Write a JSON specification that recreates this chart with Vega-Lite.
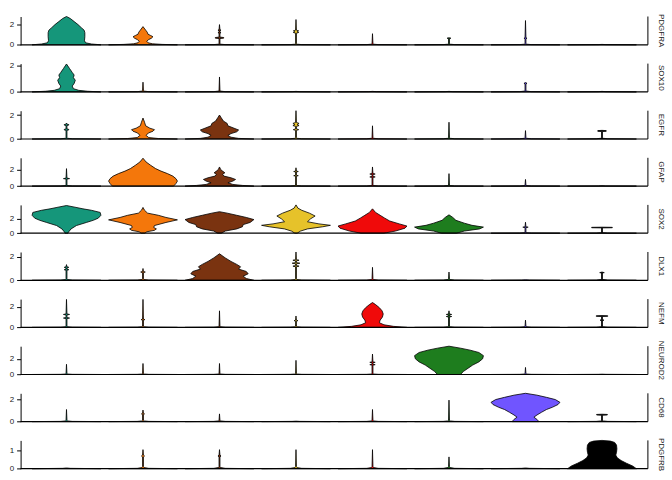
{
"$schema": "https://vega.github.io/schema/vega-lite/v6.json",
"padding": {"left": 8.6, "top": 13.5, "right": 5, "bottom": 5},
"datasets": {"vln": [
{"gene":"PDGFRA","cl":"1","expr":0,"dens":0.9},{"gene":"PDGFRA","cl":"1","expr":0.08,"dens":0.65},{"gene":"PDGFRA","cl":"1","expr":0.2,"dens":0.5},{"gene":"PDGFRA","cl":"1","expr":0.4,"dens":0.47},{"gene":"PDGFRA","cl":"1","expr":0.8,"dens":0.48},{"gene":"PDGFRA","cl":"1","expr":1.2,"dens":0.48},{"gene":"PDGFRA","cl":"1","expr":1.45,"dens":0.46},{"gene":"PDGFRA","cl":"1","expr":1.65,"dens":0.4},{"gene":"PDGFRA","cl":"1","expr":2.0,"dens":0.3},{"gene":"PDGFRA","cl":"1","expr":2.3,"dens":0.2},{"gene":"PDGFRA","cl":"1","expr":2.6,"dens":0.1},{"gene":"PDGFRA","cl":"1","expr":2.8,"dens":0},
{"gene":"PDGFRA","cl":"2","expr":0,"dens":0.9},{"gene":"PDGFRA","cl":"2","expr":0.04,"dens":0.5},{"gene":"PDGFRA","cl":"2","expr":0.1,"dens":0.25},{"gene":"PDGFRA","cl":"2","expr":0.2,"dens":0.13},{"gene":"PDGFRA","cl":"2","expr":0.35,"dens":0.1},{"gene":"PDGFRA","cl":"2","expr":0.5,"dens":0.14},{"gene":"PDGFRA","cl":"2","expr":0.65,"dens":0.22},{"gene":"PDGFRA","cl":"2","expr":0.8,"dens":0.26},{"gene":"PDGFRA","cl":"2","expr":0.92,"dens":0.2},{"gene":"PDGFRA","cl":"2","expr":1.05,"dens":0.13},{"gene":"PDGFRA","cl":"2","expr":1.25,"dens":0.11},{"gene":"PDGFRA","cl":"2","expr":1.45,"dens":0.07},{"gene":"PDGFRA","cl":"2","expr":1.8,"dens":0},
{"gene":"PDGFRA","cl":"3","expr":0,"dens":0.9},{"gene":"PDGFRA","cl":"3","expr":0.02,"dens":0.15},{"gene":"PDGFRA","cl":"3","expr":0.06,"dens":0.03},{"gene":"PDGFRA","cl":"3","expr":0.12,"dens":0.012},{"gene":"PDGFRA","cl":"3","expr":0.62,"dens":0.012},{"gene":"PDGFRA","cl":"3","expr":0.66,"dens":0.11},{"gene":"PDGFRA","cl":"3","expr":0.72,"dens":0.11},{"gene":"PDGFRA","cl":"3","expr":0.76,"dens":0.012},{"gene":"PDGFRA","cl":"3","expr":1.15,"dens":0.012},{"gene":"PDGFRA","cl":"3","expr":1.2,"dens":0.04},{"gene":"PDGFRA","cl":"3","expr":1.25,"dens":0.012},{"gene":"PDGFRA","cl":"3","expr":1.4,"dens":0.012},{"gene":"PDGFRA","cl":"3","expr":1.45,"dens":0.04},{"gene":"PDGFRA","cl":"3","expr":1.5,"dens":0.012},{"gene":"PDGFRA","cl":"3","expr":2.0,"dens":0},
{"gene":"PDGFRA","cl":"4","expr":0,"dens":0.9},{"gene":"PDGFRA","cl":"4","expr":0.02,"dens":0.15},{"gene":"PDGFRA","cl":"4","expr":0.06,"dens":0.03},{"gene":"PDGFRA","cl":"4","expr":0.12,"dens":0.012},{"gene":"PDGFRA","cl":"4","expr":1.15,"dens":0.012},{"gene":"PDGFRA","cl":"4","expr":1.22,"dens":0.07},{"gene":"PDGFRA","cl":"4","expr":1.28,"dens":0.03},{"gene":"PDGFRA","cl":"4","expr":1.38,"dens":0.07},{"gene":"PDGFRA","cl":"4","expr":1.45,"dens":0.012},{"gene":"PDGFRA","cl":"4","expr":2.5,"dens":0},
{"gene":"PDGFRA","cl":"5","expr":0,"dens":0.9},{"gene":"PDGFRA","cl":"5","expr":0.02,"dens":0.15},{"gene":"PDGFRA","cl":"5","expr":0.06,"dens":0.03},{"gene":"PDGFRA","cl":"5","expr":0.12,"dens":0.012},{"gene":"PDGFRA","cl":"5","expr":1.1,"dens":0},
{"gene":"PDGFRA","cl":"6","expr":0,"dens":0.9},{"gene":"PDGFRA","cl":"6","expr":0.02,"dens":0.15},{"gene":"PDGFRA","cl":"6","expr":0.06,"dens":0.03},{"gene":"PDGFRA","cl":"6","expr":0.12,"dens":0.012},{"gene":"PDGFRA","cl":"6","expr":0.62,"dens":0.012},{"gene":"PDGFRA","cl":"6","expr":0.65,"dens":0.05},{"gene":"PDGFRA","cl":"6","expr":0.7,"dens":0},
{"gene":"PDGFRA","cl":"7","expr":0,"dens":0.9},{"gene":"PDGFRA","cl":"7","expr":0.02,"dens":0.15},{"gene":"PDGFRA","cl":"7","expr":0.06,"dens":0.03},{"gene":"PDGFRA","cl":"7","expr":0.12,"dens":0.012},{"gene":"PDGFRA","cl":"7","expr":0.6,"dens":0.012},{"gene":"PDGFRA","cl":"7","expr":0.65,"dens":0.04},{"gene":"PDGFRA","cl":"7","expr":0.7,"dens":0.012},{"gene":"PDGFRA","cl":"7","expr":2.4,"dens":0},
{"gene":"PDGFRA","cl":"8","expr":0,"dens":0.9},{"gene":"PDGFRA","cl":"8","expr":0.02,"dens":0.1},{"gene":"PDGFRA","cl":"8","expr":0.04,"dens":0},

{"gene":"SOX10","cl":"1","expr":0,"dens":0.9},{"gene":"SOX10","cl":"1","expr":0.05,"dens":0.55},{"gene":"SOX10","cl":"1","expr":0.12,"dens":0.32},{"gene":"SOX10","cl":"1","expr":0.25,"dens":0.18},{"gene":"SOX10","cl":"1","expr":0.45,"dens":0.15},{"gene":"SOX10","cl":"1","expr":0.65,"dens":0.2},{"gene":"SOX10","cl":"1","expr":0.9,"dens":0.23},{"gene":"SOX10","cl":"1","expr":1.1,"dens":0.18},{"gene":"SOX10","cl":"1","expr":1.3,"dens":0.2},{"gene":"SOX10","cl":"1","expr":1.5,"dens":0.15},{"gene":"SOX10","cl":"1","expr":1.8,"dens":0.08},{"gene":"SOX10","cl":"1","expr":2.15,"dens":0},
{"gene":"SOX10","cl":"2","expr":0,"dens":0.9},{"gene":"SOX10","cl":"2","expr":0.02,"dens":0.15},{"gene":"SOX10","cl":"2","expr":0.06,"dens":0.03},{"gene":"SOX10","cl":"2","expr":0.12,"dens":0.012},{"gene":"SOX10","cl":"2","expr":0.75,"dens":0},
{"gene":"SOX10","cl":"3","expr":0,"dens":0.9},{"gene":"SOX10","cl":"3","expr":0.02,"dens":0.15},{"gene":"SOX10","cl":"3","expr":0.06,"dens":0.03},{"gene":"SOX10","cl":"3","expr":0.12,"dens":0.012},{"gene":"SOX10","cl":"3","expr":1.15,"dens":0},
{"gene":"SOX10","cl":"4","expr":0,"dens":0.9},{"gene":"SOX10","cl":"4","expr":0.02,"dens":0.1},{"gene":"SOX10","cl":"4","expr":0.04,"dens":0},
{"gene":"SOX10","cl":"5","expr":0,"dens":0.9},{"gene":"SOX10","cl":"5","expr":0.02,"dens":0.1},{"gene":"SOX10","cl":"5","expr":0.04,"dens":0},
{"gene":"SOX10","cl":"6","expr":0,"dens":0.9},{"gene":"SOX10","cl":"6","expr":0.02,"dens":0.1},{"gene":"SOX10","cl":"6","expr":0.04,"dens":0},
{"gene":"SOX10","cl":"7","expr":0,"dens":0.9},{"gene":"SOX10","cl":"7","expr":0.02,"dens":0.15},{"gene":"SOX10","cl":"7","expr":0.06,"dens":0.03},{"gene":"SOX10","cl":"7","expr":0.12,"dens":0.012},{"gene":"SOX10","cl":"7","expr":0.62,"dens":0.012},{"gene":"SOX10","cl":"7","expr":0.66,"dens":0.04},{"gene":"SOX10","cl":"7","expr":0.72,"dens":0},
{"gene":"SOX10","cl":"8","expr":0,"dens":0.9},{"gene":"SOX10","cl":"8","expr":0.02,"dens":0.1},{"gene":"SOX10","cl":"8","expr":0.04,"dens":0},

{"gene":"EGFR","cl":"1","expr":0,"dens":0.9},{"gene":"EGFR","cl":"1","expr":0.02,"dens":0.15},{"gene":"EGFR","cl":"1","expr":0.06,"dens":0.03},{"gene":"EGFR","cl":"1","expr":0.12,"dens":0.012},{"gene":"EGFR","cl":"1","expr":0.72,"dens":0.012},{"gene":"EGFR","cl":"1","expr":0.76,"dens":0.06},{"gene":"EGFR","cl":"1","expr":0.8,"dens":0.06},{"gene":"EGFR","cl":"1","expr":0.84,"dens":0.012},{"gene":"EGFR","cl":"1","expr":1.12,"dens":0.012},{"gene":"EGFR","cl":"1","expr":1.16,"dens":0.06},{"gene":"EGFR","cl":"1","expr":1.2,"dens":0.06},{"gene":"EGFR","cl":"1","expr":1.24,"dens":0.012},{"gene":"EGFR","cl":"1","expr":1.33,"dens":0},
{"gene":"EGFR","cl":"2","expr":0,"dens":0.9},{"gene":"EGFR","cl":"2","expr":0.04,"dens":0.4},{"gene":"EGFR","cl":"2","expr":0.12,"dens":0.15},{"gene":"EGFR","cl":"2","expr":0.3,"dens":0.08},{"gene":"EGFR","cl":"2","expr":0.5,"dens":0.14},{"gene":"EGFR","cl":"2","expr":0.65,"dens":0.26},{"gene":"EGFR","cl":"2","expr":0.78,"dens":0.3},{"gene":"EGFR","cl":"2","expr":0.9,"dens":0.18},{"gene":"EGFR","cl":"2","expr":1.1,"dens":0.07},{"gene":"EGFR","cl":"2","expr":1.4,"dens":0.04},{"gene":"EGFR","cl":"2","expr":1.75,"dens":0},
{"gene":"EGFR","cl":"3","expr":0,"dens":0.9},{"gene":"EGFR","cl":"3","expr":0.05,"dens":0.5},{"gene":"EGFR","cl":"3","expr":0.15,"dens":0.3},{"gene":"EGFR","cl":"3","expr":0.3,"dens":0.22},{"gene":"EGFR","cl":"3","expr":0.45,"dens":0.3},{"gene":"EGFR","cl":"3","expr":0.6,"dens":0.45},{"gene":"EGFR","cl":"3","expr":0.75,"dens":0.5},{"gene":"EGFR","cl":"3","expr":0.9,"dens":0.38},{"gene":"EGFR","cl":"3","expr":1.1,"dens":0.22},{"gene":"EGFR","cl":"3","expr":1.3,"dens":0.2},{"gene":"EGFR","cl":"3","expr":1.5,"dens":0.1},{"gene":"EGFR","cl":"3","expr":1.8,"dens":0.04},{"gene":"EGFR","cl":"3","expr":2.0,"dens":0},
{"gene":"EGFR","cl":"4","expr":0,"dens":0.9},{"gene":"EGFR","cl":"4","expr":0.02,"dens":0.15},{"gene":"EGFR","cl":"4","expr":0.06,"dens":0.03},{"gene":"EGFR","cl":"4","expr":0.12,"dens":0.012},{"gene":"EGFR","cl":"4","expr":0.72,"dens":0.012},{"gene":"EGFR","cl":"4","expr":0.78,"dens":0.07},{"gene":"EGFR","cl":"4","expr":0.84,"dens":0.012},{"gene":"EGFR","cl":"4","expr":1.05,"dens":0.012},{"gene":"EGFR","cl":"4","expr":1.12,"dens":0.08},{"gene":"EGFR","cl":"4","expr":1.2,"dens":0.03},{"gene":"EGFR","cl":"4","expr":1.3,"dens":0.08},{"gene":"EGFR","cl":"4","expr":1.38,"dens":0.012},{"gene":"EGFR","cl":"4","expr":2.36,"dens":0},
{"gene":"EGFR","cl":"5","expr":0,"dens":0.9},{"gene":"EGFR","cl":"5","expr":0.02,"dens":0.15},{"gene":"EGFR","cl":"5","expr":0.06,"dens":0.03},{"gene":"EGFR","cl":"5","expr":0.12,"dens":0.012},{"gene":"EGFR","cl":"5","expr":1.1,"dens":0},
{"gene":"EGFR","cl":"6","expr":0,"dens":0.9},{"gene":"EGFR","cl":"6","expr":0.02,"dens":0.15},{"gene":"EGFR","cl":"6","expr":0.06,"dens":0.03},{"gene":"EGFR","cl":"6","expr":0.12,"dens":0.012},{"gene":"EGFR","cl":"6","expr":1.4,"dens":0},
{"gene":"EGFR","cl":"7","expr":0,"dens":0.9},{"gene":"EGFR","cl":"7","expr":0.02,"dens":0.15},{"gene":"EGFR","cl":"7","expr":0.06,"dens":0.03},{"gene":"EGFR","cl":"7","expr":0.12,"dens":0.012},{"gene":"EGFR","cl":"7","expr":0.7,"dens":0},
{"gene":"EGFR","cl":"8","expr":0,"dens":0.9},{"gene":"EGFR","cl":"8","expr":0.02,"dens":0.15},{"gene":"EGFR","cl":"8","expr":0.06,"dens":0.03},{"gene":"EGFR","cl":"8","expr":0.12,"dens":0.012},{"gene":"EGFR","cl":"8","expr":0.62,"dens":0.012},{"gene":"EGFR","cl":"8","expr":0.64,"dens":0.11},{"gene":"EGFR","cl":"8","expr":0.7,"dens":0.11},{"gene":"EGFR","cl":"8","expr":0.72,"dens":0},

{"gene":"GFAP","cl":"1","expr":0,"dens":0.9},{"gene":"GFAP","cl":"1","expr":0.02,"dens":0.15},{"gene":"GFAP","cl":"1","expr":0.06,"dens":0.03},{"gene":"GFAP","cl":"1","expr":0.12,"dens":0.012},{"gene":"GFAP","cl":"1","expr":0.85,"dens":0.012},{"gene":"GFAP","cl":"1","expr":0.9,"dens":0.08},{"gene":"GFAP","cl":"1","expr":0.96,"dens":0.012},{"gene":"GFAP","cl":"1","expr":2.1,"dens":0},
{"gene":"GFAP","cl":"2","expr":0,"dens":0.8},{"gene":"GFAP","cl":"2","expr":0.3,"dens":0.86},{"gene":"GFAP","cl":"2","expr":0.6,"dens":0.9},{"gene":"GFAP","cl":"2","expr":0.9,"dens":0.86},{"gene":"GFAP","cl":"2","expr":1.2,"dens":0.78},{"gene":"GFAP","cl":"2","expr":1.5,"dens":0.64},{"gene":"GFAP","cl":"2","expr":1.8,"dens":0.47},{"gene":"GFAP","cl":"2","expr":2.1,"dens":0.33},{"gene":"GFAP","cl":"2","expr":2.5,"dens":0.2},{"gene":"GFAP","cl":"2","expr":2.9,"dens":0.08},{"gene":"GFAP","cl":"2","expr":3.35,"dens":0},
{"gene":"GFAP","cl":"3","expr":0,"dens":0.9},{"gene":"GFAP","cl":"3","expr":0.08,"dens":0.6},{"gene":"GFAP","cl":"3","expr":0.2,"dens":0.35},{"gene":"GFAP","cl":"3","expr":0.4,"dens":0.22},{"gene":"GFAP","cl":"3","expr":0.6,"dens":0.35},{"gene":"GFAP","cl":"3","expr":0.8,"dens":0.42},{"gene":"GFAP","cl":"3","expr":1.0,"dens":0.3},{"gene":"GFAP","cl":"3","expr":1.2,"dens":0.12},{"gene":"GFAP","cl":"3","expr":1.4,"dens":0.08},{"gene":"GFAP","cl":"3","expr":1.6,"dens":0.14},{"gene":"GFAP","cl":"3","expr":1.8,"dens":0.08},{"gene":"GFAP","cl":"3","expr":2.0,"dens":0.03},{"gene":"GFAP","cl":"3","expr":2.3,"dens":0},
{"gene":"GFAP","cl":"4","expr":0,"dens":0.9},{"gene":"GFAP","cl":"4","expr":0.02,"dens":0.15},{"gene":"GFAP","cl":"4","expr":0.06,"dens":0.03},{"gene":"GFAP","cl":"4","expr":0.12,"dens":0.012},{"gene":"GFAP","cl":"4","expr":1.2,"dens":0.012},{"gene":"GFAP","cl":"4","expr":1.25,"dens":0.06},{"gene":"GFAP","cl":"4","expr":1.3,"dens":0.012},{"gene":"GFAP","cl":"4","expr":1.7,"dens":0.012},{"gene":"GFAP","cl":"4","expr":1.75,"dens":0.06},{"gene":"GFAP","cl":"4","expr":1.8,"dens":0.012},{"gene":"GFAP","cl":"4","expr":2.2,"dens":0},
{"gene":"GFAP","cl":"5","expr":0,"dens":0.9},{"gene":"GFAP","cl":"5","expr":0.02,"dens":0.15},{"gene":"GFAP","cl":"5","expr":0.06,"dens":0.03},{"gene":"GFAP","cl":"5","expr":0.12,"dens":0.012},{"gene":"GFAP","cl":"5","expr":1.05,"dens":0.012},{"gene":"GFAP","cl":"5","expr":1.1,"dens":0.07},{"gene":"GFAP","cl":"5","expr":1.15,"dens":0.012},{"gene":"GFAP","cl":"5","expr":1.4,"dens":0.012},{"gene":"GFAP","cl":"5","expr":1.45,"dens":0.07},{"gene":"GFAP","cl":"5","expr":1.5,"dens":0.012},{"gene":"GFAP","cl":"5","expr":2.3,"dens":0},
{"gene":"GFAP","cl":"6","expr":0,"dens":0.9},{"gene":"GFAP","cl":"6","expr":0.02,"dens":0.15},{"gene":"GFAP","cl":"6","expr":0.06,"dens":0.03},{"gene":"GFAP","cl":"6","expr":0.12,"dens":0.012},{"gene":"GFAP","cl":"6","expr":1.5,"dens":0},
{"gene":"GFAP","cl":"7","expr":0,"dens":0.9},{"gene":"GFAP","cl":"7","expr":0.02,"dens":0.15},{"gene":"GFAP","cl":"7","expr":0.06,"dens":0.03},{"gene":"GFAP","cl":"7","expr":0.12,"dens":0.012},{"gene":"GFAP","cl":"7","expr":0.8,"dens":0},
{"gene":"GFAP","cl":"8","expr":0,"dens":0.9},{"gene":"GFAP","cl":"8","expr":0.02,"dens":0.1},{"gene":"GFAP","cl":"8","expr":0.04,"dens":0},

{"gene":"SOX2","cl":"1","expr":0,"dens":0.04},{"gene":"SOX2","cl":"1","expr":0.15,"dens":0.05},{"gene":"SOX2","cl":"1","expr":0.6,"dens":0.12},{"gene":"SOX2","cl":"1","expr":1.07,"dens":0.26},{"gene":"SOX2","cl":"1","expr":1.5,"dens":0.52},{"gene":"SOX2","cl":"1","expr":1.8,"dens":0.7},{"gene":"SOX2","cl":"1","expr":2.1,"dens":0.83},{"gene":"SOX2","cl":"1","expr":2.5,"dens":0.9},{"gene":"SOX2","cl":"1","expr":2.9,"dens":0.88},{"gene":"SOX2","cl":"1","expr":3.2,"dens":0.65},{"gene":"SOX2","cl":"1","expr":3.4,"dens":0.43},{"gene":"SOX2","cl":"1","expr":3.6,"dens":0.25},{"gene":"SOX2","cl":"1","expr":3.86,"dens":0},
{"gene":"SOX2","cl":"2","expr":0,"dens":0.05},{"gene":"SOX2","cl":"2","expr":0.2,"dens":0.1},{"gene":"SOX2","cl":"2","expr":0.4,"dens":0.3},{"gene":"SOX2","cl":"2","expr":0.6,"dens":0.35},{"gene":"SOX2","cl":"2","expr":0.8,"dens":0.28},{"gene":"SOX2","cl":"2","expr":1.07,"dens":0.3},{"gene":"SOX2","cl":"2","expr":1.5,"dens":0.6},{"gene":"SOX2","cl":"2","expr":1.86,"dens":0.9},{"gene":"SOX2","cl":"2","expr":2.2,"dens":0.6},{"gene":"SOX2","cl":"2","expr":2.5,"dens":0.4},{"gene":"SOX2","cl":"2","expr":2.8,"dens":0.12},{"gene":"SOX2","cl":"2","expr":3.2,"dens":0.04},{"gene":"SOX2","cl":"2","expr":3.6,"dens":0},
{"gene":"SOX2","cl":"3","expr":0,"dens":0.05},{"gene":"SOX2","cl":"3","expr":0.3,"dens":0.15},{"gene":"SOX2","cl":"3","expr":0.6,"dens":0.45},{"gene":"SOX2","cl":"3","expr":0.9,"dens":0.6},{"gene":"SOX2","cl":"3","expr":1.2,"dens":0.62},{"gene":"SOX2","cl":"3","expr":1.5,"dens":0.8},{"gene":"SOX2","cl":"3","expr":1.9,"dens":0.9},{"gene":"SOX2","cl":"3","expr":2.2,"dens":0.7},{"gene":"SOX2","cl":"3","expr":2.5,"dens":0.45},{"gene":"SOX2","cl":"3","expr":2.8,"dens":0.2},{"gene":"SOX2","cl":"3","expr":3.0,"dens":0},
{"gene":"SOX2","cl":"4","expr":0,"dens":0.03},{"gene":"SOX2","cl":"4","expr":0.3,"dens":0.12},{"gene":"SOX2","cl":"4","expr":0.6,"dens":0.3},{"gene":"SOX2","cl":"4","expr":0.9,"dens":0.7},{"gene":"SOX2","cl":"4","expr":1.1,"dens":0.9},{"gene":"SOX2","cl":"4","expr":1.3,"dens":0.6},{"gene":"SOX2","cl":"4","expr":1.6,"dens":0.3},{"gene":"SOX2","cl":"4","expr":2.0,"dens":0.38},{"gene":"SOX2","cl":"4","expr":2.4,"dens":0.5},{"gene":"SOX2","cl":"4","expr":2.8,"dens":0.35},{"gene":"SOX2","cl":"4","expr":3.2,"dens":0.15},{"gene":"SOX2","cl":"4","expr":3.5,"dens":0.05},{"gene":"SOX2","cl":"4","expr":3.95,"dens":0},
{"gene":"SOX2","cl":"5","expr":0,"dens":0.3},{"gene":"SOX2","cl":"5","expr":0.3,"dens":0.6},{"gene":"SOX2","cl":"5","expr":0.7,"dens":0.85},{"gene":"SOX2","cl":"5","expr":1.0,"dens":0.9},{"gene":"SOX2","cl":"5","expr":1.3,"dens":0.7},{"gene":"SOX2","cl":"5","expr":1.7,"dens":0.45},{"gene":"SOX2","cl":"5","expr":2.1,"dens":0.32},{"gene":"SOX2","cl":"5","expr":2.5,"dens":0.2},{"gene":"SOX2","cl":"5","expr":2.9,"dens":0.08},{"gene":"SOX2","cl":"5","expr":3.4,"dens":0},
{"gene":"SOX2","cl":"6","expr":0,"dens":0.2},{"gene":"SOX2","cl":"6","expr":0.3,"dens":0.4},{"gene":"SOX2","cl":"6","expr":0.6,"dens":0.8},{"gene":"SOX2","cl":"6","expr":0.85,"dens":0.9},{"gene":"SOX2","cl":"6","expr":1.1,"dens":0.6},{"gene":"SOX2","cl":"6","expr":1.4,"dens":0.4},{"gene":"SOX2","cl":"6","expr":1.8,"dens":0.18},{"gene":"SOX2","cl":"6","expr":2.2,"dens":0.1},{"gene":"SOX2","cl":"6","expr":2.56,"dens":0},
{"gene":"SOX2","cl":"7","expr":0,"dens":0.9},{"gene":"SOX2","cl":"7","expr":0.02,"dens":0.15},{"gene":"SOX2","cl":"7","expr":0.06,"dens":0.03},{"gene":"SOX2","cl":"7","expr":0.12,"dens":0.012},{"gene":"SOX2","cl":"7","expr":0.8,"dens":0.012},{"gene":"SOX2","cl":"7","expr":0.84,"dens":0.07},{"gene":"SOX2","cl":"7","expr":0.88,"dens":0.012},{"gene":"SOX2","cl":"7","expr":1.53,"dens":0},
{"gene":"SOX2","cl":"8","expr":0,"dens":0.9},{"gene":"SOX2","cl":"8","expr":0.02,"dens":0.15},{"gene":"SOX2","cl":"8","expr":0.06,"dens":0.03},{"gene":"SOX2","cl":"8","expr":0.12,"dens":0.012},{"gene":"SOX2","cl":"8","expr":0.74,"dens":0.012},{"gene":"SOX2","cl":"8","expr":0.76,"dens":0.27},{"gene":"SOX2","cl":"8","expr":0.82,"dens":0.27},{"gene":"SOX2","cl":"8","expr":0.84,"dens":0},

{"gene":"DLX1","cl":"1","expr":0,"dens":0.9},{"gene":"DLX1","cl":"1","expr":0.02,"dens":0.15},{"gene":"DLX1","cl":"1","expr":0.06,"dens":0.03},{"gene":"DLX1","cl":"1","expr":0.12,"dens":0.012},{"gene":"DLX1","cl":"1","expr":0.85,"dens":0.012},{"gene":"DLX1","cl":"1","expr":0.9,"dens":0.06},{"gene":"DLX1","cl":"1","expr":0.95,"dens":0.012},{"gene":"DLX1","cl":"1","expr":1.05,"dens":0.012},{"gene":"DLX1","cl":"1","expr":1.1,"dens":0.06},{"gene":"DLX1","cl":"1","expr":1.15,"dens":0.012},{"gene":"DLX1","cl":"1","expr":1.33,"dens":0},
{"gene":"DLX1","cl":"2","expr":0,"dens":0.9},{"gene":"DLX1","cl":"2","expr":0.02,"dens":0.15},{"gene":"DLX1","cl":"2","expr":0.06,"dens":0.03},{"gene":"DLX1","cl":"2","expr":0.12,"dens":0.012},{"gene":"DLX1","cl":"2","expr":0.65,"dens":0.012},{"gene":"DLX1","cl":"2","expr":0.7,"dens":0.06},{"gene":"DLX1","cl":"2","expr":0.75,"dens":0.012},{"gene":"DLX1","cl":"2","expr":1.0,"dens":0},
{"gene":"DLX1","cl":"3","expr":0,"dens":0.9},{"gene":"DLX1","cl":"3","expr":0.15,"dens":0.7},{"gene":"DLX1","cl":"3","expr":0.35,"dens":0.62},{"gene":"DLX1","cl":"3","expr":0.55,"dens":0.75},{"gene":"DLX1","cl":"3","expr":0.75,"dens":0.7},{"gene":"DLX1","cl":"3","expr":0.95,"dens":0.5},{"gene":"DLX1","cl":"3","expr":1.15,"dens":0.55},{"gene":"DLX1","cl":"3","expr":1.35,"dens":0.45},{"gene":"DLX1","cl":"3","expr":1.6,"dens":0.3},{"gene":"DLX1","cl":"3","expr":1.9,"dens":0.15},{"gene":"DLX1","cl":"3","expr":2.25,"dens":0},
{"gene":"DLX1","cl":"4","expr":0,"dens":0.9},{"gene":"DLX1","cl":"4","expr":0.02,"dens":0.15},{"gene":"DLX1","cl":"4","expr":0.06,"dens":0.03},{"gene":"DLX1","cl":"4","expr":0.12,"dens":0.012},{"gene":"DLX1","cl":"4","expr":1.15,"dens":0.012},{"gene":"DLX1","cl":"4","expr":1.2,"dens":0.08},{"gene":"DLX1","cl":"4","expr":1.25,"dens":0.012},{"gene":"DLX1","cl":"4","expr":1.4,"dens":0.012},{"gene":"DLX1","cl":"4","expr":1.45,"dens":0.1},{"gene":"DLX1","cl":"4","expr":1.5,"dens":0.012},{"gene":"DLX1","cl":"4","expr":1.65,"dens":0.012},{"gene":"DLX1","cl":"4","expr":1.7,"dens":0.08},{"gene":"DLX1","cl":"4","expr":1.75,"dens":0.012},{"gene":"DLX1","cl":"4","expr":2.4,"dens":0},
{"gene":"DLX1","cl":"5","expr":0,"dens":0.9},{"gene":"DLX1","cl":"5","expr":0.02,"dens":0.15},{"gene":"DLX1","cl":"5","expr":0.06,"dens":0.03},{"gene":"DLX1","cl":"5","expr":0.12,"dens":0.012},{"gene":"DLX1","cl":"5","expr":1.1,"dens":0},
{"gene":"DLX1","cl":"6","expr":0,"dens":0.9},{"gene":"DLX1","cl":"6","expr":0.02,"dens":0.15},{"gene":"DLX1","cl":"6","expr":0.06,"dens":0.03},{"gene":"DLX1","cl":"6","expr":0.12,"dens":0.012},{"gene":"DLX1","cl":"6","expr":0.7,"dens":0},
{"gene":"DLX1","cl":"7","expr":0,"dens":0.9},{"gene":"DLX1","cl":"7","expr":0.02,"dens":0.1},{"gene":"DLX1","cl":"7","expr":0.04,"dens":0},
{"gene":"DLX1","cl":"8","expr":0,"dens":0.9},{"gene":"DLX1","cl":"8","expr":0.02,"dens":0.15},{"gene":"DLX1","cl":"8","expr":0.06,"dens":0.03},{"gene":"DLX1","cl":"8","expr":0.12,"dens":0.012},{"gene":"DLX1","cl":"8","expr":0.62,"dens":0.012},{"gene":"DLX1","cl":"8","expr":0.65,"dens":0.06},{"gene":"DLX1","cl":"8","expr":0.7,"dens":0},

{"gene":"NEFM","cl":"1","expr":0,"dens":0.9},{"gene":"NEFM","cl":"1","expr":0.02,"dens":0.15},{"gene":"NEFM","cl":"1","expr":0.06,"dens":0.03},{"gene":"NEFM","cl":"1","expr":0.12,"dens":0.012},{"gene":"NEFM","cl":"1","expr":0.85,"dens":0.012},{"gene":"NEFM","cl":"1","expr":0.9,"dens":0.08},{"gene":"NEFM","cl":"1","expr":0.95,"dens":0.012},{"gene":"NEFM","cl":"1","expr":1.2,"dens":0.012},{"gene":"NEFM","cl":"1","expr":1.25,"dens":0.08},{"gene":"NEFM","cl":"1","expr":1.3,"dens":0.012},{"gene":"NEFM","cl":"1","expr":2.7,"dens":0},
{"gene":"NEFM","cl":"2","expr":0,"dens":0.9},{"gene":"NEFM","cl":"2","expr":0.02,"dens":0.15},{"gene":"NEFM","cl":"2","expr":0.06,"dens":0.03},{"gene":"NEFM","cl":"2","expr":0.12,"dens":0.012},{"gene":"NEFM","cl":"2","expr":0.7,"dens":0.012},{"gene":"NEFM","cl":"2","expr":0.75,"dens":0.05},{"gene":"NEFM","cl":"2","expr":0.8,"dens":0.012},{"gene":"NEFM","cl":"2","expr":2.7,"dens":0},
{"gene":"NEFM","cl":"3","expr":0,"dens":0.9},{"gene":"NEFM","cl":"3","expr":0.02,"dens":0.15},{"gene":"NEFM","cl":"3","expr":0.06,"dens":0.03},{"gene":"NEFM","cl":"3","expr":0.12,"dens":0.012},{"gene":"NEFM","cl":"3","expr":1.6,"dens":0},
{"gene":"NEFM","cl":"4","expr":0,"dens":0.9},{"gene":"NEFM","cl":"4","expr":0.02,"dens":0.15},{"gene":"NEFM","cl":"4","expr":0.06,"dens":0.03},{"gene":"NEFM","cl":"4","expr":0.12,"dens":0.012},{"gene":"NEFM","cl":"4","expr":0.6,"dens":0.012},{"gene":"NEFM","cl":"4","expr":0.65,"dens":0.05},{"gene":"NEFM","cl":"4","expr":0.7,"dens":0.012},{"gene":"NEFM","cl":"4","expr":1.1,"dens":0},
{"gene":"NEFM","cl":"5","expr":0,"dens":0.9},{"gene":"NEFM","cl":"5","expr":0.1,"dens":0.55},{"gene":"NEFM","cl":"5","expr":0.25,"dens":0.3},{"gene":"NEFM","cl":"5","expr":0.45,"dens":0.18},{"gene":"NEFM","cl":"5","expr":0.7,"dens":0.2},{"gene":"NEFM","cl":"5","expr":1.0,"dens":0.26},{"gene":"NEFM","cl":"5","expr":1.3,"dens":0.28},{"gene":"NEFM","cl":"5","expr":1.6,"dens":0.25},{"gene":"NEFM","cl":"5","expr":1.9,"dens":0.18},{"gene":"NEFM","cl":"5","expr":2.2,"dens":0.08},{"gene":"NEFM","cl":"5","expr":2.4,"dens":0},
{"gene":"NEFM","cl":"6","expr":0,"dens":0.9},{"gene":"NEFM","cl":"6","expr":0.02,"dens":0.15},{"gene":"NEFM","cl":"6","expr":0.06,"dens":0.03},{"gene":"NEFM","cl":"6","expr":0.12,"dens":0.012},{"gene":"NEFM","cl":"6","expr":1.0,"dens":0.012},{"gene":"NEFM","cl":"6","expr":1.05,"dens":0.07},{"gene":"NEFM","cl":"6","expr":1.1,"dens":0.012},{"gene":"NEFM","cl":"6","expr":1.2,"dens":0.012},{"gene":"NEFM","cl":"6","expr":1.25,"dens":0.07},{"gene":"NEFM","cl":"6","expr":1.3,"dens":0.012},{"gene":"NEFM","cl":"6","expr":1.6,"dens":0},
{"gene":"NEFM","cl":"7","expr":0,"dens":0.9},{"gene":"NEFM","cl":"7","expr":0.02,"dens":0.15},{"gene":"NEFM","cl":"7","expr":0.06,"dens":0.03},{"gene":"NEFM","cl":"7","expr":0.12,"dens":0.012},{"gene":"NEFM","cl":"7","expr":0.7,"dens":0},
{"gene":"NEFM","cl":"8","expr":0,"dens":0.9},{"gene":"NEFM","cl":"8","expr":0.02,"dens":0.15},{"gene":"NEFM","cl":"8","expr":0.06,"dens":0.03},{"gene":"NEFM","cl":"8","expr":0.12,"dens":0.012},{"gene":"NEFM","cl":"8","expr":0.65,"dens":0.012},{"gene":"NEFM","cl":"8","expr":0.7,"dens":0.05},{"gene":"NEFM","cl":"8","expr":0.75,"dens":0.012},{"gene":"NEFM","cl":"8","expr":1.05,"dens":0.012},{"gene":"NEFM","cl":"8","expr":1.07,"dens":0.15},{"gene":"NEFM","cl":"8","expr":1.12,"dens":0.15},{"gene":"NEFM","cl":"8","expr":1.14,"dens":0},

{"gene":"NEUROD2","cl":"1","expr":0,"dens":0.9},{"gene":"NEUROD2","cl":"1","expr":0.02,"dens":0.15},{"gene":"NEUROD2","cl":"1","expr":0.06,"dens":0.03},{"gene":"NEUROD2","cl":"1","expr":0.12,"dens":0.012},{"gene":"NEUROD2","cl":"1","expr":1.3,"dens":0},
{"gene":"NEUROD2","cl":"2","expr":0,"dens":0.9},{"gene":"NEUROD2","cl":"2","expr":0.02,"dens":0.15},{"gene":"NEUROD2","cl":"2","expr":0.06,"dens":0.03},{"gene":"NEUROD2","cl":"2","expr":0.12,"dens":0.012},{"gene":"NEUROD2","cl":"2","expr":1.4,"dens":0},
{"gene":"NEUROD2","cl":"3","expr":0,"dens":0.9},{"gene":"NEUROD2","cl":"3","expr":0.02,"dens":0.15},{"gene":"NEUROD2","cl":"3","expr":0.06,"dens":0.03},{"gene":"NEUROD2","cl":"3","expr":0.12,"dens":0.012},{"gene":"NEUROD2","cl":"3","expr":1.4,"dens":0},
{"gene":"NEUROD2","cl":"4","expr":0,"dens":0.9},{"gene":"NEUROD2","cl":"4","expr":0.02,"dens":0.15},{"gene":"NEUROD2","cl":"4","expr":0.06,"dens":0.03},{"gene":"NEUROD2","cl":"4","expr":0.12,"dens":0.012},{"gene":"NEUROD2","cl":"4","expr":1.8,"dens":0},
{"gene":"NEUROD2","cl":"5","expr":0,"dens":0.9},{"gene":"NEUROD2","cl":"5","expr":0.02,"dens":0.15},{"gene":"NEUROD2","cl":"5","expr":0.06,"dens":0.03},{"gene":"NEUROD2","cl":"5","expr":0.12,"dens":0.012},{"gene":"NEUROD2","cl":"5","expr":1.2,"dens":0.012},{"gene":"NEUROD2","cl":"5","expr":1.25,"dens":0.07},{"gene":"NEUROD2","cl":"5","expr":1.3,"dens":0.012},{"gene":"NEUROD2","cl":"5","expr":1.5,"dens":0.012},{"gene":"NEUROD2","cl":"5","expr":1.55,"dens":0.07},{"gene":"NEUROD2","cl":"5","expr":1.6,"dens":0.012},{"gene":"NEUROD2","cl":"5","expr":2.6,"dens":0},
{"gene":"NEUROD2","cl":"6","expr":0,"dens":0.3},{"gene":"NEUROD2","cl":"6","expr":0.4,"dens":0.38},{"gene":"NEUROD2","cl":"6","expr":0.8,"dens":0.5},{"gene":"NEUROD2","cl":"6","expr":1.2,"dens":0.62},{"gene":"NEUROD2","cl":"6","expr":1.6,"dens":0.78},{"gene":"NEUROD2","cl":"6","expr":2.0,"dens":0.88},{"gene":"NEUROD2","cl":"6","expr":2.4,"dens":0.9},{"gene":"NEUROD2","cl":"6","expr":2.8,"dens":0.78},{"gene":"NEUROD2","cl":"6","expr":3.1,"dens":0.55},{"gene":"NEUROD2","cl":"6","expr":3.35,"dens":0.3},{"gene":"NEUROD2","cl":"6","expr":3.6,"dens":0},
{"gene":"NEUROD2","cl":"7","expr":0,"dens":0.9},{"gene":"NEUROD2","cl":"7","expr":0.02,"dens":0.15},{"gene":"NEUROD2","cl":"7","expr":0.06,"dens":0.03},{"gene":"NEUROD2","cl":"7","expr":0.12,"dens":0.012},{"gene":"NEUROD2","cl":"7","expr":0.9,"dens":0},
{"gene":"NEUROD2","cl":"8","expr":0,"dens":0.9},{"gene":"NEUROD2","cl":"8","expr":0.02,"dens":0.1},{"gene":"NEUROD2","cl":"8","expr":0.04,"dens":0},

{"gene":"CD68","cl":"1","expr":0,"dens":0.9},{"gene":"CD68","cl":"1","expr":0.02,"dens":0.15},{"gene":"CD68","cl":"1","expr":0.06,"dens":0.03},{"gene":"CD68","cl":"1","expr":0.12,"dens":0.012},{"gene":"CD68","cl":"1","expr":1.1,"dens":0},
{"gene":"CD68","cl":"2","expr":0,"dens":0.9},{"gene":"CD68","cl":"2","expr":0.02,"dens":0.15},{"gene":"CD68","cl":"2","expr":0.06,"dens":0.03},{"gene":"CD68","cl":"2","expr":0.12,"dens":0.012},{"gene":"CD68","cl":"2","expr":0.65,"dens":0.012},{"gene":"CD68","cl":"2","expr":0.7,"dens":0.04},{"gene":"CD68","cl":"2","expr":0.75,"dens":0.012},{"gene":"CD68","cl":"2","expr":1.05,"dens":0},
{"gene":"CD68","cl":"3","expr":0,"dens":0.9},{"gene":"CD68","cl":"3","expr":0.02,"dens":0.15},{"gene":"CD68","cl":"3","expr":0.06,"dens":0.03},{"gene":"CD68","cl":"3","expr":0.12,"dens":0.012},{"gene":"CD68","cl":"3","expr":0.7,"dens":0},
{"gene":"CD68","cl":"4","expr":0,"dens":0.9},{"gene":"CD68","cl":"4","expr":0.02,"dens":0.1},{"gene":"CD68","cl":"4","expr":0.04,"dens":0},
{"gene":"CD68","cl":"5","expr":0,"dens":0.9},{"gene":"CD68","cl":"5","expr":0.02,"dens":0.15},{"gene":"CD68","cl":"5","expr":0.06,"dens":0.03},{"gene":"CD68","cl":"5","expr":0.12,"dens":0.012},{"gene":"CD68","cl":"5","expr":1.1,"dens":0},
{"gene":"CD68","cl":"6","expr":0,"dens":0.9},{"gene":"CD68","cl":"6","expr":0.02,"dens":0.15},{"gene":"CD68","cl":"6","expr":0.06,"dens":0.03},{"gene":"CD68","cl":"6","expr":0.12,"dens":0.012},{"gene":"CD68","cl":"6","expr":1.95,"dens":0},
{"gene":"CD68","cl":"7","expr":0,"dens":0.35},{"gene":"CD68","cl":"7","expr":0.2,"dens":0.3},{"gene":"CD68","cl":"7","expr":0.4,"dens":0.22},{"gene":"CD68","cl":"7","expr":0.6,"dens":0.3},{"gene":"CD68","cl":"7","expr":0.85,"dens":0.42},{"gene":"CD68","cl":"7","expr":1.1,"dens":0.55},{"gene":"CD68","cl":"7","expr":1.3,"dens":0.7},{"gene":"CD68","cl":"7","expr":1.55,"dens":0.85},{"gene":"CD68","cl":"7","expr":1.75,"dens":0.9},{"gene":"CD68","cl":"7","expr":2.0,"dens":0.78},{"gene":"CD68","cl":"7","expr":2.2,"dens":0.55},{"gene":"CD68","cl":"7","expr":2.4,"dens":0.3},{"gene":"CD68","cl":"7","expr":2.57,"dens":0},
{"gene":"CD68","cl":"8","expr":0,"dens":0.9},{"gene":"CD68","cl":"8","expr":0.02,"dens":0.15},{"gene":"CD68","cl":"8","expr":0.06,"dens":0.03},{"gene":"CD68","cl":"8","expr":0.12,"dens":0.012},{"gene":"CD68","cl":"8","expr":0.58,"dens":0.012},{"gene":"CD68","cl":"8","expr":0.6,"dens":0.14},{"gene":"CD68","cl":"8","expr":0.65,"dens":0.14},{"gene":"CD68","cl":"8","expr":0.67,"dens":0},

{"gene":"PDGFRB","cl":"1","expr":0,"dens":0.9},{"gene":"PDGFRB","cl":"1","expr":0.02,"dens":0.1},{"gene":"PDGFRB","cl":"1","expr":0.04,"dens":0},
{"gene":"PDGFRB","cl":"2","expr":0,"dens":0.9},{"gene":"PDGFRB","cl":"2","expr":0.02,"dens":0.15},{"gene":"PDGFRB","cl":"2","expr":0.06,"dens":0.03},{"gene":"PDGFRB","cl":"2","expr":0.12,"dens":0.012},{"gene":"PDGFRB","cl":"2","expr":0.65,"dens":0.012},{"gene":"PDGFRB","cl":"2","expr":0.7,"dens":0.04},{"gene":"PDGFRB","cl":"2","expr":0.75,"dens":0.012},{"gene":"PDGFRB","cl":"2","expr":1.05,"dens":0},
{"gene":"PDGFRB","cl":"3","expr":0,"dens":0.9},{"gene":"PDGFRB","cl":"3","expr":0.02,"dens":0.15},{"gene":"PDGFRB","cl":"3","expr":0.06,"dens":0.03},{"gene":"PDGFRB","cl":"3","expr":0.12,"dens":0.012},{"gene":"PDGFRB","cl":"3","expr":0.65,"dens":0.012},{"gene":"PDGFRB","cl":"3","expr":0.7,"dens":0.04},{"gene":"PDGFRB","cl":"3","expr":0.75,"dens":0.012},{"gene":"PDGFRB","cl":"3","expr":1.05,"dens":0},
{"gene":"PDGFRB","cl":"4","expr":0,"dens":0.9},{"gene":"PDGFRB","cl":"4","expr":0.02,"dens":0.15},{"gene":"PDGFRB","cl":"4","expr":0.06,"dens":0.03},{"gene":"PDGFRB","cl":"4","expr":0.12,"dens":0.012},{"gene":"PDGFRB","cl":"4","expr":1.05,"dens":0},
{"gene":"PDGFRB","cl":"5","expr":0,"dens":0.9},{"gene":"PDGFRB","cl":"5","expr":0.02,"dens":0.15},{"gene":"PDGFRB","cl":"5","expr":0.06,"dens":0.03},{"gene":"PDGFRB","cl":"5","expr":0.12,"dens":0.012},{"gene":"PDGFRB","cl":"5","expr":1.05,"dens":0},
{"gene":"PDGFRB","cl":"6","expr":0,"dens":0.9},{"gene":"PDGFRB","cl":"6","expr":0.02,"dens":0.15},{"gene":"PDGFRB","cl":"6","expr":0.06,"dens":0.03},{"gene":"PDGFRB","cl":"6","expr":0.12,"dens":0.012},{"gene":"PDGFRB","cl":"6","expr":0.65,"dens":0},
{"gene":"PDGFRB","cl":"7","expr":0,"dens":0.9},{"gene":"PDGFRB","cl":"7","expr":0.02,"dens":0.1},{"gene":"PDGFRB","cl":"7","expr":0.04,"dens":0},
{"gene":"PDGFRB","cl":"8","expr":0,"dens":0.9},{"gene":"PDGFRB","cl":"8","expr":0.15,"dens":0.8},{"gene":"PDGFRB","cl":"8","expr":0.3,"dens":0.64},{"gene":"PDGFRB","cl":"8","expr":0.45,"dens":0.5},{"gene":"PDGFRB","cl":"8","expr":0.6,"dens":0.4},{"gene":"PDGFRB","cl":"8","expr":0.75,"dens":0.36},{"gene":"PDGFRB","cl":"8","expr":0.9,"dens":0.38},{"gene":"PDGFRB","cl":"8","expr":1.1,"dens":0.39},{"gene":"PDGFRB","cl":"8","expr":1.3,"dens":0.38},{"gene":"PDGFRB","cl":"8","expr":1.45,"dens":0.33},{"gene":"PDGFRB","cl":"8","expr":1.52,"dens":0.22},{"gene":"PDGFRB","cl":"8","expr":1.56,"dens":0}
]},
"data": {"name": "vln"},
"spacing": 18.1,
"bounds": "flush",
"vconcat": [
{"width":627.3,"height":28.3,"title":{"text":"PDGFRA","orient":"right","angle":90,"offset":9},
 "transform":[{"filter":{"field":"gene","equal":"PDGFRA"}}],
 "layer":[
  {"encoding":{"y":{"field":"expr","type":"quantitative","scale":{"domain":[0,2.8],"nice":false},"axis":{"values":[0,1,2],"title":null}},
    "color":{"field":"cl","type":"nominal","scale":{"domain":["1","2","3","4","5","6","7","8"],"range":["#15967A","#F4770B","#7A3310","#E6C22A","#F00A0A","#1E7D1E","#7055FF","#000000"]},"legend":null}},
   "layer":[
    {"transform":[{"filter":{"field":"cl","equal":"1"}}],"mark":{"type":"area","orient":"horizontal"},"encoding":{"x":{"field":"dens","type":"quantitative","stack":"center","impute":null,"scale":{"domain":[-0.15,8.05]},"axis":null}}},
    {"transform":[{"filter":{"field":"cl","equal":"2"}}],"mark":{"type":"area","orient":"horizontal"},"encoding":{"x":{"field":"dens","type":"quantitative","stack":"center","impute":null,"scale":{"domain":[-1.15,7.05]},"axis":null}}},
    {"transform":[{"filter":{"field":"cl","equal":"3"}}],"mark":{"type":"area","orient":"horizontal"},"encoding":{"x":{"field":"dens","type":"quantitative","stack":"center","impute":null,"scale":{"domain":[-2.15,6.05]},"axis":null}}},
    {"transform":[{"filter":{"field":"cl","equal":"4"}}],"mark":{"type":"area","orient":"horizontal"},"encoding":{"x":{"field":"dens","type":"quantitative","stack":"center","impute":null,"scale":{"domain":[-3.15,5.05]},"axis":null}}},
    {"transform":[{"filter":{"field":"cl","equal":"5"}}],"mark":{"type":"area","orient":"horizontal"},"encoding":{"x":{"field":"dens","type":"quantitative","stack":"center","impute":null,"scale":{"domain":[-4.15,4.05]},"axis":null}}},
    {"transform":[{"filter":{"field":"cl","equal":"6"}}],"mark":{"type":"area","orient":"horizontal"},"encoding":{"x":{"field":"dens","type":"quantitative","stack":"center","impute":null,"scale":{"domain":[-5.15,3.05]},"axis":null}}},
    {"transform":[{"filter":{"field":"cl","equal":"7"}}],"mark":{"type":"area","orient":"horizontal"},"encoding":{"x":{"field":"dens","type":"quantitative","stack":"center","impute":null,"scale":{"domain":[-6.15,2.05]},"axis":null}}},
    {"transform":[{"filter":{"field":"cl","equal":"8"}}],"mark":{"type":"area","orient":"horizontal"},"encoding":{"x":{"field":"dens","type":"quantitative","stack":"center","impute":null,"scale":{"domain":[-7.15,1.05]},"axis":null}}}
   ],
   "resolve":{"scale":{"x":"independent"}}},
  {"transform":[{"aggregate":[{"op":"count","as":"n"}]}],"mark":{"type":"rule","color":"#000000","strokeWidth":1.2},"encoding":{"y":{"datum":0,"title":null}}},
  {"transform":[{"aggregate":[{"op":"count","as":"n"}]}],"mark":{"type":"rule","color":"#000000","strokeWidth":1},"encoding":{"x":{"datum":1,"scale":{"domain":[0,1]},"axis":null},"y":{"datum":0,"title":null},"y2":{"datum":2.8}}}
 ],
 "resolve":{"scale":{"x":"independent"}}},
{"width":627.3,"height":28.3,"title":{"text":"SOX10","orient":"right","angle":90,"offset":9},
 "transform":[{"filter":{"field":"gene","equal":"SOX10"}}],
 "layer":[
  {"encoding":{"y":{"field":"expr","type":"quantitative","scale":{"domain":[0,2.18],"nice":false},"axis":{"values":[0,1,2],"title":null}},
    "color":{"field":"cl","type":"nominal","scale":{"domain":["1","2","3","4","5","6","7","8"],"range":["#15967A","#F4770B","#7A3310","#E6C22A","#F00A0A","#1E7D1E","#7055FF","#000000"]},"legend":null}},
   "layer":[
    {"transform":[{"filter":{"field":"cl","equal":"1"}}],"mark":{"type":"area","orient":"horizontal"},"encoding":{"x":{"field":"dens","type":"quantitative","stack":"center","impute":null,"scale":{"domain":[-0.15,8.05]},"axis":null}}},
    {"transform":[{"filter":{"field":"cl","equal":"2"}}],"mark":{"type":"area","orient":"horizontal"},"encoding":{"x":{"field":"dens","type":"quantitative","stack":"center","impute":null,"scale":{"domain":[-1.15,7.05]},"axis":null}}},
    {"transform":[{"filter":{"field":"cl","equal":"3"}}],"mark":{"type":"area","orient":"horizontal"},"encoding":{"x":{"field":"dens","type":"quantitative","stack":"center","impute":null,"scale":{"domain":[-2.15,6.05]},"axis":null}}},
    {"transform":[{"filter":{"field":"cl","equal":"4"}}],"mark":{"type":"area","orient":"horizontal"},"encoding":{"x":{"field":"dens","type":"quantitative","stack":"center","impute":null,"scale":{"domain":[-3.15,5.05]},"axis":null}}},
    {"transform":[{"filter":{"field":"cl","equal":"5"}}],"mark":{"type":"area","orient":"horizontal"},"encoding":{"x":{"field":"dens","type":"quantitative","stack":"center","impute":null,"scale":{"domain":[-4.15,4.05]},"axis":null}}},
    {"transform":[{"filter":{"field":"cl","equal":"6"}}],"mark":{"type":"area","orient":"horizontal"},"encoding":{"x":{"field":"dens","type":"quantitative","stack":"center","impute":null,"scale":{"domain":[-5.15,3.05]},"axis":null}}},
    {"transform":[{"filter":{"field":"cl","equal":"7"}}],"mark":{"type":"area","orient":"horizontal"},"encoding":{"x":{"field":"dens","type":"quantitative","stack":"center","impute":null,"scale":{"domain":[-6.15,2.05]},"axis":null}}},
    {"transform":[{"filter":{"field":"cl","equal":"8"}}],"mark":{"type":"area","orient":"horizontal"},"encoding":{"x":{"field":"dens","type":"quantitative","stack":"center","impute":null,"scale":{"domain":[-7.15,1.05]},"axis":null}}}
   ],
   "resolve":{"scale":{"x":"independent"}}},
  {"transform":[{"aggregate":[{"op":"count","as":"n"}]}],"mark":{"type":"rule","color":"#000000","strokeWidth":1.2},"encoding":{"y":{"datum":0,"title":null}}},
  {"transform":[{"aggregate":[{"op":"count","as":"n"}]}],"mark":{"type":"rule","color":"#000000","strokeWidth":1},"encoding":{"x":{"datum":1,"scale":{"domain":[0,1]},"axis":null},"y":{"datum":0,"title":null},"y2":{"datum":2.18}}}
 ],
 "resolve":{"scale":{"x":"independent"}}},
{"width":627.3,"height":28.3,"title":{"text":"EGFR","orient":"right","angle":90,"offset":9},
 "transform":[{"filter":{"field":"gene","equal":"EGFR"}}],
 "layer":[
  {"encoding":{"y":{"field":"expr","type":"quantitative","scale":{"domain":[0,2.36],"nice":false},"axis":{"values":[0,1,2],"title":null}},
    "color":{"field":"cl","type":"nominal","scale":{"domain":["1","2","3","4","5","6","7","8"],"range":["#15967A","#F4770B","#7A3310","#E6C22A","#F00A0A","#1E7D1E","#7055FF","#000000"]},"legend":null}},
   "layer":[
    {"transform":[{"filter":{"field":"cl","equal":"1"}}],"mark":{"type":"area","orient":"horizontal"},"encoding":{"x":{"field":"dens","type":"quantitative","stack":"center","impute":null,"scale":{"domain":[-0.15,8.05]},"axis":null}}},
    {"transform":[{"filter":{"field":"cl","equal":"2"}}],"mark":{"type":"area","orient":"horizontal"},"encoding":{"x":{"field":"dens","type":"quantitative","stack":"center","impute":null,"scale":{"domain":[-1.15,7.05]},"axis":null}}},
    {"transform":[{"filter":{"field":"cl","equal":"3"}}],"mark":{"type":"area","orient":"horizontal"},"encoding":{"x":{"field":"dens","type":"quantitative","stack":"center","impute":null,"scale":{"domain":[-2.15,6.05]},"axis":null}}},
    {"transform":[{"filter":{"field":"cl","equal":"4"}}],"mark":{"type":"area","orient":"horizontal"},"encoding":{"x":{"field":"dens","type":"quantitative","stack":"center","impute":null,"scale":{"domain":[-3.15,5.05]},"axis":null}}},
    {"transform":[{"filter":{"field":"cl","equal":"5"}}],"mark":{"type":"area","orient":"horizontal"},"encoding":{"x":{"field":"dens","type":"quantitative","stack":"center","impute":null,"scale":{"domain":[-4.15,4.05]},"axis":null}}},
    {"transform":[{"filter":{"field":"cl","equal":"6"}}],"mark":{"type":"area","orient":"horizontal"},"encoding":{"x":{"field":"dens","type":"quantitative","stack":"center","impute":null,"scale":{"domain":[-5.15,3.05]},"axis":null}}},
    {"transform":[{"filter":{"field":"cl","equal":"7"}}],"mark":{"type":"area","orient":"horizontal"},"encoding":{"x":{"field":"dens","type":"quantitative","stack":"center","impute":null,"scale":{"domain":[-6.15,2.05]},"axis":null}}},
    {"transform":[{"filter":{"field":"cl","equal":"8"}}],"mark":{"type":"area","orient":"horizontal"},"encoding":{"x":{"field":"dens","type":"quantitative","stack":"center","impute":null,"scale":{"domain":[-7.15,1.05]},"axis":null}}}
   ],
   "resolve":{"scale":{"x":"independent"}}},
  {"transform":[{"aggregate":[{"op":"count","as":"n"}]}],"mark":{"type":"rule","color":"#000000","strokeWidth":1.2},"encoding":{"y":{"datum":0,"title":null}}},
  {"transform":[{"aggregate":[{"op":"count","as":"n"}]}],"mark":{"type":"rule","color":"#000000","strokeWidth":1},"encoding":{"x":{"datum":1,"scale":{"domain":[0,1]},"axis":null},"y":{"datum":0,"title":null},"y2":{"datum":2.36}}}
 ],
 "resolve":{"scale":{"x":"independent"}}},
{"width":627.3,"height":28.3,"title":{"text":"GFAP","orient":"right","angle":90,"offset":9},
 "transform":[{"filter":{"field":"gene","equal":"GFAP"}}],
 "layer":[
  {"encoding":{"y":{"field":"expr","type":"quantitative","scale":{"domain":[0,3.4],"nice":false},"axis":{"values":[0,2],"title":null}},
    "color":{"field":"cl","type":"nominal","scale":{"domain":["1","2","3","4","5","6","7","8"],"range":["#15967A","#F4770B","#7A3310","#E6C22A","#F00A0A","#1E7D1E","#7055FF","#000000"]},"legend":null}},
   "layer":[
    {"transform":[{"filter":{"field":"cl","equal":"1"}}],"mark":{"type":"area","orient":"horizontal"},"encoding":{"x":{"field":"dens","type":"quantitative","stack":"center","impute":null,"scale":{"domain":[-0.15,8.05]},"axis":null}}},
    {"transform":[{"filter":{"field":"cl","equal":"2"}}],"mark":{"type":"area","orient":"horizontal"},"encoding":{"x":{"field":"dens","type":"quantitative","stack":"center","impute":null,"scale":{"domain":[-1.15,7.05]},"axis":null}}},
    {"transform":[{"filter":{"field":"cl","equal":"3"}}],"mark":{"type":"area","orient":"horizontal"},"encoding":{"x":{"field":"dens","type":"quantitative","stack":"center","impute":null,"scale":{"domain":[-2.15,6.05]},"axis":null}}},
    {"transform":[{"filter":{"field":"cl","equal":"4"}}],"mark":{"type":"area","orient":"horizontal"},"encoding":{"x":{"field":"dens","type":"quantitative","stack":"center","impute":null,"scale":{"domain":[-3.15,5.05]},"axis":null}}},
    {"transform":[{"filter":{"field":"cl","equal":"5"}}],"mark":{"type":"area","orient":"horizontal"},"encoding":{"x":{"field":"dens","type":"quantitative","stack":"center","impute":null,"scale":{"domain":[-4.15,4.05]},"axis":null}}},
    {"transform":[{"filter":{"field":"cl","equal":"6"}}],"mark":{"type":"area","orient":"horizontal"},"encoding":{"x":{"field":"dens","type":"quantitative","stack":"center","impute":null,"scale":{"domain":[-5.15,3.05]},"axis":null}}},
    {"transform":[{"filter":{"field":"cl","equal":"7"}}],"mark":{"type":"area","orient":"horizontal"},"encoding":{"x":{"field":"dens","type":"quantitative","stack":"center","impute":null,"scale":{"domain":[-6.15,2.05]},"axis":null}}},
    {"transform":[{"filter":{"field":"cl","equal":"8"}}],"mark":{"type":"area","orient":"horizontal"},"encoding":{"x":{"field":"dens","type":"quantitative","stack":"center","impute":null,"scale":{"domain":[-7.15,1.05]},"axis":null}}}
   ],
   "resolve":{"scale":{"x":"independent"}}},
  {"transform":[{"aggregate":[{"op":"count","as":"n"}]}],"mark":{"type":"rule","color":"#000000","strokeWidth":1.2},"encoding":{"y":{"datum":0,"title":null}}},
  {"transform":[{"aggregate":[{"op":"count","as":"n"}]}],"mark":{"type":"rule","color":"#000000","strokeWidth":1},"encoding":{"x":{"datum":1,"scale":{"domain":[0,1]},"axis":null},"y":{"datum":0,"title":null},"y2":{"datum":3.4}}}
 ],
 "resolve":{"scale":{"x":"independent"}}},
{"width":627.3,"height":28.3,"title":{"text":"SOX2","orient":"right","angle":90,"offset":9},
 "transform":[{"filter":{"field":"gene","equal":"SOX2"}}],
 "layer":[
  {"encoding":{"y":{"field":"expr","type":"quantitative","scale":{"domain":[0,3.95],"nice":false},"axis":{"values":[0,2],"title":null}},
    "color":{"field":"cl","type":"nominal","scale":{"domain":["1","2","3","4","5","6","7","8"],"range":["#15967A","#F4770B","#7A3310","#E6C22A","#F00A0A","#1E7D1E","#7055FF","#000000"]},"legend":null}},
   "layer":[
    {"transform":[{"filter":{"field":"cl","equal":"1"}}],"mark":{"type":"area","orient":"horizontal"},"encoding":{"x":{"field":"dens","type":"quantitative","stack":"center","impute":null,"scale":{"domain":[-0.15,8.05]},"axis":null}}},
    {"transform":[{"filter":{"field":"cl","equal":"2"}}],"mark":{"type":"area","orient":"horizontal"},"encoding":{"x":{"field":"dens","type":"quantitative","stack":"center","impute":null,"scale":{"domain":[-1.15,7.05]},"axis":null}}},
    {"transform":[{"filter":{"field":"cl","equal":"3"}}],"mark":{"type":"area","orient":"horizontal"},"encoding":{"x":{"field":"dens","type":"quantitative","stack":"center","impute":null,"scale":{"domain":[-2.15,6.05]},"axis":null}}},
    {"transform":[{"filter":{"field":"cl","equal":"4"}}],"mark":{"type":"area","orient":"horizontal"},"encoding":{"x":{"field":"dens","type":"quantitative","stack":"center","impute":null,"scale":{"domain":[-3.15,5.05]},"axis":null}}},
    {"transform":[{"filter":{"field":"cl","equal":"5"}}],"mark":{"type":"area","orient":"horizontal"},"encoding":{"x":{"field":"dens","type":"quantitative","stack":"center","impute":null,"scale":{"domain":[-4.15,4.05]},"axis":null}}},
    {"transform":[{"filter":{"field":"cl","equal":"6"}}],"mark":{"type":"area","orient":"horizontal"},"encoding":{"x":{"field":"dens","type":"quantitative","stack":"center","impute":null,"scale":{"domain":[-5.15,3.05]},"axis":null}}},
    {"transform":[{"filter":{"field":"cl","equal":"7"}}],"mark":{"type":"area","orient":"horizontal"},"encoding":{"x":{"field":"dens","type":"quantitative","stack":"center","impute":null,"scale":{"domain":[-6.15,2.05]},"axis":null}}},
    {"transform":[{"filter":{"field":"cl","equal":"8"}}],"mark":{"type":"area","orient":"horizontal"},"encoding":{"x":{"field":"dens","type":"quantitative","stack":"center","impute":null,"scale":{"domain":[-7.15,1.05]},"axis":null}}}
   ],
   "resolve":{"scale":{"x":"independent"}}},
  {"transform":[{"aggregate":[{"op":"count","as":"n"}]}],"mark":{"type":"rule","color":"#000000","strokeWidth":1.2},"encoding":{"y":{"datum":0,"title":null}}},
  {"transform":[{"aggregate":[{"op":"count","as":"n"}]}],"mark":{"type":"rule","color":"#000000","strokeWidth":1},"encoding":{"x":{"datum":1,"scale":{"domain":[0,1]},"axis":null},"y":{"datum":0,"title":null},"y2":{"datum":3.95}}}
 ],
 "resolve":{"scale":{"x":"independent"}}},
{"width":627.3,"height":28.3,"title":{"text":"DLX1","orient":"right","angle":90,"offset":9},
 "transform":[{"filter":{"field":"gene","equal":"DLX1"}}],
 "layer":[
  {"encoding":{"y":{"field":"expr","type":"quantitative","scale":{"domain":[0,2.4],"nice":false},"axis":{"values":[0,1,2],"title":null}},
    "color":{"field":"cl","type":"nominal","scale":{"domain":["1","2","3","4","5","6","7","8"],"range":["#15967A","#F4770B","#7A3310","#E6C22A","#F00A0A","#1E7D1E","#7055FF","#000000"]},"legend":null}},
   "layer":[
    {"transform":[{"filter":{"field":"cl","equal":"1"}}],"mark":{"type":"area","orient":"horizontal"},"encoding":{"x":{"field":"dens","type":"quantitative","stack":"center","impute":null,"scale":{"domain":[-0.15,8.05]},"axis":null}}},
    {"transform":[{"filter":{"field":"cl","equal":"2"}}],"mark":{"type":"area","orient":"horizontal"},"encoding":{"x":{"field":"dens","type":"quantitative","stack":"center","impute":null,"scale":{"domain":[-1.15,7.05]},"axis":null}}},
    {"transform":[{"filter":{"field":"cl","equal":"3"}}],"mark":{"type":"area","orient":"horizontal"},"encoding":{"x":{"field":"dens","type":"quantitative","stack":"center","impute":null,"scale":{"domain":[-2.15,6.05]},"axis":null}}},
    {"transform":[{"filter":{"field":"cl","equal":"4"}}],"mark":{"type":"area","orient":"horizontal"},"encoding":{"x":{"field":"dens","type":"quantitative","stack":"center","impute":null,"scale":{"domain":[-3.15,5.05]},"axis":null}}},
    {"transform":[{"filter":{"field":"cl","equal":"5"}}],"mark":{"type":"area","orient":"horizontal"},"encoding":{"x":{"field":"dens","type":"quantitative","stack":"center","impute":null,"scale":{"domain":[-4.15,4.05]},"axis":null}}},
    {"transform":[{"filter":{"field":"cl","equal":"6"}}],"mark":{"type":"area","orient":"horizontal"},"encoding":{"x":{"field":"dens","type":"quantitative","stack":"center","impute":null,"scale":{"domain":[-5.15,3.05]},"axis":null}}},
    {"transform":[{"filter":{"field":"cl","equal":"7"}}],"mark":{"type":"area","orient":"horizontal"},"encoding":{"x":{"field":"dens","type":"quantitative","stack":"center","impute":null,"scale":{"domain":[-6.15,2.05]},"axis":null}}},
    {"transform":[{"filter":{"field":"cl","equal":"8"}}],"mark":{"type":"area","orient":"horizontal"},"encoding":{"x":{"field":"dens","type":"quantitative","stack":"center","impute":null,"scale":{"domain":[-7.15,1.05]},"axis":null}}}
   ],
   "resolve":{"scale":{"x":"independent"}}},
  {"transform":[{"aggregate":[{"op":"count","as":"n"}]}],"mark":{"type":"rule","color":"#000000","strokeWidth":1.2},"encoding":{"y":{"datum":0,"title":null}}},
  {"transform":[{"aggregate":[{"op":"count","as":"n"}]}],"mark":{"type":"rule","color":"#000000","strokeWidth":1},"encoding":{"x":{"datum":1,"scale":{"domain":[0,1]},"axis":null},"y":{"datum":0,"title":null},"y2":{"datum":2.4}}}
 ],
 "resolve":{"scale":{"x":"independent"}}},
{"width":627.3,"height":28.3,"title":{"text":"NEFM","orient":"right","angle":90,"offset":9},
 "transform":[{"filter":{"field":"gene","equal":"NEFM"}}],
 "layer":[
  {"encoding":{"y":{"field":"expr","type":"quantitative","scale":{"domain":[0,2.73],"nice":false},"axis":{"values":[0,2],"title":null}},
    "color":{"field":"cl","type":"nominal","scale":{"domain":["1","2","3","4","5","6","7","8"],"range":["#15967A","#F4770B","#7A3310","#E6C22A","#F00A0A","#1E7D1E","#7055FF","#000000"]},"legend":null}},
   "layer":[
    {"transform":[{"filter":{"field":"cl","equal":"1"}}],"mark":{"type":"area","orient":"horizontal"},"encoding":{"x":{"field":"dens","type":"quantitative","stack":"center","impute":null,"scale":{"domain":[-0.15,8.05]},"axis":null}}},
    {"transform":[{"filter":{"field":"cl","equal":"2"}}],"mark":{"type":"area","orient":"horizontal"},"encoding":{"x":{"field":"dens","type":"quantitative","stack":"center","impute":null,"scale":{"domain":[-1.15,7.05]},"axis":null}}},
    {"transform":[{"filter":{"field":"cl","equal":"3"}}],"mark":{"type":"area","orient":"horizontal"},"encoding":{"x":{"field":"dens","type":"quantitative","stack":"center","impute":null,"scale":{"domain":[-2.15,6.05]},"axis":null}}},
    {"transform":[{"filter":{"field":"cl","equal":"4"}}],"mark":{"type":"area","orient":"horizontal"},"encoding":{"x":{"field":"dens","type":"quantitative","stack":"center","impute":null,"scale":{"domain":[-3.15,5.05]},"axis":null}}},
    {"transform":[{"filter":{"field":"cl","equal":"5"}}],"mark":{"type":"area","orient":"horizontal"},"encoding":{"x":{"field":"dens","type":"quantitative","stack":"center","impute":null,"scale":{"domain":[-4.15,4.05]},"axis":null}}},
    {"transform":[{"filter":{"field":"cl","equal":"6"}}],"mark":{"type":"area","orient":"horizontal"},"encoding":{"x":{"field":"dens","type":"quantitative","stack":"center","impute":null,"scale":{"domain":[-5.15,3.05]},"axis":null}}},
    {"transform":[{"filter":{"field":"cl","equal":"7"}}],"mark":{"type":"area","orient":"horizontal"},"encoding":{"x":{"field":"dens","type":"quantitative","stack":"center","impute":null,"scale":{"domain":[-6.15,2.05]},"axis":null}}},
    {"transform":[{"filter":{"field":"cl","equal":"8"}}],"mark":{"type":"area","orient":"horizontal"},"encoding":{"x":{"field":"dens","type":"quantitative","stack":"center","impute":null,"scale":{"domain":[-7.15,1.05]},"axis":null}}}
   ],
   "resolve":{"scale":{"x":"independent"}}},
  {"transform":[{"aggregate":[{"op":"count","as":"n"}]}],"mark":{"type":"rule","color":"#000000","strokeWidth":1.2},"encoding":{"y":{"datum":0,"title":null}}},
  {"transform":[{"aggregate":[{"op":"count","as":"n"}]}],"mark":{"type":"rule","color":"#000000","strokeWidth":1},"encoding":{"x":{"datum":1,"scale":{"domain":[0,1]},"axis":null},"y":{"datum":0,"title":null},"y2":{"datum":2.73}}}
 ],
 "resolve":{"scale":{"x":"independent"}}},
{"width":627.3,"height":28.3,"title":{"text":"NEUROD2","orient":"right","angle":90,"offset":9},
 "transform":[{"filter":{"field":"gene","equal":"NEUROD2"}}],
 "layer":[
  {"encoding":{"y":{"field":"expr","type":"quantitative","scale":{"domain":[0,3.6],"nice":false},"axis":{"values":[0,2],"title":null}},
    "color":{"field":"cl","type":"nominal","scale":{"domain":["1","2","3","4","5","6","7","8"],"range":["#15967A","#F4770B","#7A3310","#E6C22A","#F00A0A","#1E7D1E","#7055FF","#000000"]},"legend":null}},
   "layer":[
    {"transform":[{"filter":{"field":"cl","equal":"1"}}],"mark":{"type":"area","orient":"horizontal"},"encoding":{"x":{"field":"dens","type":"quantitative","stack":"center","impute":null,"scale":{"domain":[-0.15,8.05]},"axis":null}}},
    {"transform":[{"filter":{"field":"cl","equal":"2"}}],"mark":{"type":"area","orient":"horizontal"},"encoding":{"x":{"field":"dens","type":"quantitative","stack":"center","impute":null,"scale":{"domain":[-1.15,7.05]},"axis":null}}},
    {"transform":[{"filter":{"field":"cl","equal":"3"}}],"mark":{"type":"area","orient":"horizontal"},"encoding":{"x":{"field":"dens","type":"quantitative","stack":"center","impute":null,"scale":{"domain":[-2.15,6.05]},"axis":null}}},
    {"transform":[{"filter":{"field":"cl","equal":"4"}}],"mark":{"type":"area","orient":"horizontal"},"encoding":{"x":{"field":"dens","type":"quantitative","stack":"center","impute":null,"scale":{"domain":[-3.15,5.05]},"axis":null}}},
    {"transform":[{"filter":{"field":"cl","equal":"5"}}],"mark":{"type":"area","orient":"horizontal"},"encoding":{"x":{"field":"dens","type":"quantitative","stack":"center","impute":null,"scale":{"domain":[-4.15,4.05]},"axis":null}}},
    {"transform":[{"filter":{"field":"cl","equal":"6"}}],"mark":{"type":"area","orient":"horizontal"},"encoding":{"x":{"field":"dens","type":"quantitative","stack":"center","impute":null,"scale":{"domain":[-5.15,3.05]},"axis":null}}},
    {"transform":[{"filter":{"field":"cl","equal":"7"}}],"mark":{"type":"area","orient":"horizontal"},"encoding":{"x":{"field":"dens","type":"quantitative","stack":"center","impute":null,"scale":{"domain":[-6.15,2.05]},"axis":null}}},
    {"transform":[{"filter":{"field":"cl","equal":"8"}}],"mark":{"type":"area","orient":"horizontal"},"encoding":{"x":{"field":"dens","type":"quantitative","stack":"center","impute":null,"scale":{"domain":[-7.15,1.05]},"axis":null}}}
   ],
   "resolve":{"scale":{"x":"independent"}}},
  {"transform":[{"aggregate":[{"op":"count","as":"n"}]}],"mark":{"type":"rule","color":"#000000","strokeWidth":1.2},"encoding":{"y":{"datum":0,"title":null}}},
  {"transform":[{"aggregate":[{"op":"count","as":"n"}]}],"mark":{"type":"rule","color":"#000000","strokeWidth":1},"encoding":{"x":{"datum":1,"scale":{"domain":[0,1]},"axis":null},"y":{"datum":0,"title":null},"y2":{"datum":3.6}}}
 ],
 "resolve":{"scale":{"x":"independent"}}},
{"width":627.3,"height":28.3,"title":{"text":"CD68","orient":"right","angle":90,"offset":9},
 "transform":[{"filter":{"field":"gene","equal":"CD68"}}],
 "layer":[
  {"encoding":{"y":{"field":"expr","type":"quantitative","scale":{"domain":[0,2.57],"nice":false},"axis":{"values":[0,1,2],"title":null}},
    "color":{"field":"cl","type":"nominal","scale":{"domain":["1","2","3","4","5","6","7","8"],"range":["#15967A","#F4770B","#7A3310","#E6C22A","#F00A0A","#1E7D1E","#7055FF","#000000"]},"legend":null}},
   "layer":[
    {"transform":[{"filter":{"field":"cl","equal":"1"}}],"mark":{"type":"area","orient":"horizontal"},"encoding":{"x":{"field":"dens","type":"quantitative","stack":"center","impute":null,"scale":{"domain":[-0.15,8.05]},"axis":null}}},
    {"transform":[{"filter":{"field":"cl","equal":"2"}}],"mark":{"type":"area","orient":"horizontal"},"encoding":{"x":{"field":"dens","type":"quantitative","stack":"center","impute":null,"scale":{"domain":[-1.15,7.05]},"axis":null}}},
    {"transform":[{"filter":{"field":"cl","equal":"3"}}],"mark":{"type":"area","orient":"horizontal"},"encoding":{"x":{"field":"dens","type":"quantitative","stack":"center","impute":null,"scale":{"domain":[-2.15,6.05]},"axis":null}}},
    {"transform":[{"filter":{"field":"cl","equal":"4"}}],"mark":{"type":"area","orient":"horizontal"},"encoding":{"x":{"field":"dens","type":"quantitative","stack":"center","impute":null,"scale":{"domain":[-3.15,5.05]},"axis":null}}},
    {"transform":[{"filter":{"field":"cl","equal":"5"}}],"mark":{"type":"area","orient":"horizontal"},"encoding":{"x":{"field":"dens","type":"quantitative","stack":"center","impute":null,"scale":{"domain":[-4.15,4.05]},"axis":null}}},
    {"transform":[{"filter":{"field":"cl","equal":"6"}}],"mark":{"type":"area","orient":"horizontal"},"encoding":{"x":{"field":"dens","type":"quantitative","stack":"center","impute":null,"scale":{"domain":[-5.15,3.05]},"axis":null}}},
    {"transform":[{"filter":{"field":"cl","equal":"7"}}],"mark":{"type":"area","orient":"horizontal"},"encoding":{"x":{"field":"dens","type":"quantitative","stack":"center","impute":null,"scale":{"domain":[-6.15,2.05]},"axis":null}}},
    {"transform":[{"filter":{"field":"cl","equal":"8"}}],"mark":{"type":"area","orient":"horizontal"},"encoding":{"x":{"field":"dens","type":"quantitative","stack":"center","impute":null,"scale":{"domain":[-7.15,1.05]},"axis":null}}}
   ],
   "resolve":{"scale":{"x":"independent"}}},
  {"transform":[{"aggregate":[{"op":"count","as":"n"}]}],"mark":{"type":"rule","color":"#000000","strokeWidth":1.2},"encoding":{"y":{"datum":0,"title":null}}},
  {"transform":[{"aggregate":[{"op":"count","as":"n"}]}],"mark":{"type":"rule","color":"#000000","strokeWidth":1},"encoding":{"x":{"datum":1,"scale":{"domain":[0,1]},"axis":null},"y":{"datum":0,"title":null},"y2":{"datum":2.57}}}
 ],
 "resolve":{"scale":{"x":"independent"}}},
{"width":627.3,"height":28.3,"title":{"text":"PDGFRB","orient":"right","angle":90,"offset":9},
 "transform":[{"filter":{"field":"gene","equal":"PDGFRB"}}],
 "layer":[
  {"encoding":{"y":{"field":"expr","type":"quantitative","scale":{"domain":[0,1.56],"nice":false},"axis":{"values":[0,1],"title":null}},
    "color":{"field":"cl","type":"nominal","scale":{"domain":["1","2","3","4","5","6","7","8"],"range":["#15967A","#F4770B","#7A3310","#E6C22A","#F00A0A","#1E7D1E","#7055FF","#000000"]},"legend":null}},
   "layer":[
    {"transform":[{"filter":{"field":"cl","equal":"1"}}],"mark":{"type":"area","orient":"horizontal"},"encoding":{"x":{"field":"dens","type":"quantitative","stack":"center","impute":null,"scale":{"domain":[-0.15,8.05]},"axis":null}}},
    {"transform":[{"filter":{"field":"cl","equal":"2"}}],"mark":{"type":"area","orient":"horizontal"},"encoding":{"x":{"field":"dens","type":"quantitative","stack":"center","impute":null,"scale":{"domain":[-1.15,7.05]},"axis":null}}},
    {"transform":[{"filter":{"field":"cl","equal":"3"}}],"mark":{"type":"area","orient":"horizontal"},"encoding":{"x":{"field":"dens","type":"quantitative","stack":"center","impute":null,"scale":{"domain":[-2.15,6.05]},"axis":null}}},
    {"transform":[{"filter":{"field":"cl","equal":"4"}}],"mark":{"type":"area","orient":"horizontal"},"encoding":{"x":{"field":"dens","type":"quantitative","stack":"center","impute":null,"scale":{"domain":[-3.15,5.05]},"axis":null}}},
    {"transform":[{"filter":{"field":"cl","equal":"5"}}],"mark":{"type":"area","orient":"horizontal"},"encoding":{"x":{"field":"dens","type":"quantitative","stack":"center","impute":null,"scale":{"domain":[-4.15,4.05]},"axis":null}}},
    {"transform":[{"filter":{"field":"cl","equal":"6"}}],"mark":{"type":"area","orient":"horizontal"},"encoding":{"x":{"field":"dens","type":"quantitative","stack":"center","impute":null,"scale":{"domain":[-5.15,3.05]},"axis":null}}},
    {"transform":[{"filter":{"field":"cl","equal":"7"}}],"mark":{"type":"area","orient":"horizontal"},"encoding":{"x":{"field":"dens","type":"quantitative","stack":"center","impute":null,"scale":{"domain":[-6.15,2.05]},"axis":null}}},
    {"transform":[{"filter":{"field":"cl","equal":"8"}}],"mark":{"type":"area","orient":"horizontal"},"encoding":{"x":{"field":"dens","type":"quantitative","stack":"center","impute":null,"scale":{"domain":[-7.15,1.05]},"axis":null}}}
   ],
   "resolve":{"scale":{"x":"independent"}}},
  {"transform":[{"aggregate":[{"op":"count","as":"n"}]}],"mark":{"type":"rule","color":"#000000","strokeWidth":1.2},"encoding":{"y":{"datum":0,"title":null}}},
  {"transform":[{"aggregate":[{"op":"count","as":"n"}]}],"mark":{"type":"rule","color":"#000000","strokeWidth":1},"encoding":{"x":{"datum":1,"scale":{"domain":[0,1]},"axis":null},"y":{"datum":0,"title":null},"y2":{"datum":1.56}}}
 ],
 "resolve":{"scale":{"x":"independent"}}}
],
"config": {
  "view": {"stroke": null},
  "font": "Liberation Sans",
  "area": {"stroke": "#000000", "strokeWidth": 0.8, "strokeJoin": "round"},
  "title": {"fontSize": 8, "fontWeight": "normal", "font": "Liberation Sans", "color": "#1a1a1a", "anchor": "middle"},
  "axis": {"grid": false, "domainColor": "#000000", "domainWidth": 1, "tickColor": "#000000", "tickWidth": 1, "tickSize": 4, "labelPadding": 3, "labelFontSize": 8, "labelColor": "#1a1a1a", "labelFont": "Liberation Sans"}
}
}
